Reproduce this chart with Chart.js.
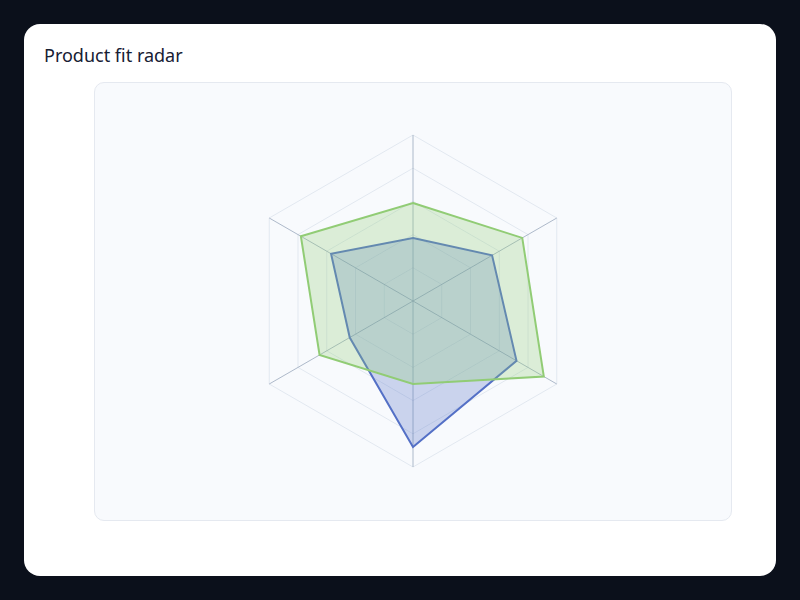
<!DOCTYPE html>
<html>
<head>
<meta charset="utf-8">
<script src="https://cdn.jsdelivr.net/npm/chart.js@4/dist/chart.umd.min.js"></script>
<style>
  html, body { margin: 0; padding: 0; background: #0b101b; width: 800px; height: 600px; overflow: hidden; }
  .card { position: absolute; left: 24px; top: 24px; width: 752px; height: 552px; background: #ffffff; border-radius: 16px; }
  .title { position: absolute; left: 20px; top: 19px; font-family: "Noto Sans", sans-serif; font-size: 18px; color: #172033; }
  .panel { position: absolute; left: 70px; top: 58px; width: 636px; height: 437px; background: #f8fafd; border: 1px solid #e5e9f0; border-radius: 10px; }
  .panel canvas { position: absolute; left: 0; top: 0; }
</style>
</head>
<body>
<div class="card">
  <div class="title">Product fit radar</div>
  <div class="panel"><canvas id="radar" width="636" height="437"></canvas></div>
</div>
<script>
// Radar axes (labels are hidden in the picture)
const categories = ['Price', 'Features', 'Support', 'Integrations', 'Usability', 'Security'];
const seriesA = [38, 55, 72, 88, 44, 57];
const seriesB = [59, 76, 91, 50, 65, 78];
const scaleMax = 100;
const scaleStep = 20;

const ctx = document.getElementById('radar').getContext('2d');
new Chart(ctx, {
  type: 'radar',
  data: {
    labels: categories,
    // first dataset is drawn on top, green sits over blue in the picture
    datasets: [
      {
        label: 'Product B',
        data: seriesB,
        borderColor: '#91cc75',
        backgroundColor: 'rgba(145, 204, 117, 0.28)',
        borderWidth: 2,
        pointRadius: 0,
        fill: true
      },
      {
        label: 'Product A',
        data: seriesA,
        borderColor: '#5470c6',
        backgroundColor: 'rgba(84, 112, 198, 0.28)',
        borderWidth: 2,
        pointRadius: 0,
        fill: true
      }
    ]
  },
  options: {
    responsive: false,
    animation: false,
    layout: { padding: { top: 52, bottom: 52, left: 0, right: 0 } },
    plugins: { legend: { display: false }, tooltip: { enabled: false } },
    scales: {
      r: {
        min: 0,
        max: scaleMax,
        ticks: { display: false, stepSize: scaleStep },
        pointLabels: { display: false },
        grid: { color: '#e2e8f0', lineWidth: 1 },
        angleLines: { color: 'rgba(148, 163, 184, 0.75)', lineWidth: 1 }
      }
    }
  }
});
</script>
</body>
</html>
